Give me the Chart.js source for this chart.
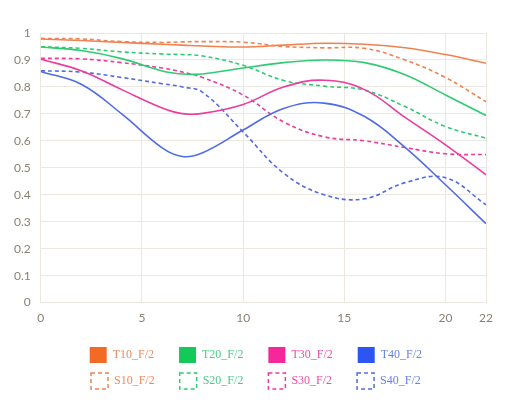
<!DOCTYPE html>
<html>
<head>
<meta charset="utf-8">
<script src="https://cdn.jsdelivr.net/npm/chart.js@4.4.0/dist/chart.umd.min.js"></script>
<style>
  html, body { margin: 0; padding: 0; background: #fff; }
  #wrap { width: 521px; height: 416px; }
</style>
</head>
<body>
<div id="wrap"><canvas id="mtf"></canvas></div>
<script>
// image height (mm) where each value was read
var xs = [0, 2, 4, 6, 7, 8, 10, 12, 14, 16, 18, 20, 22];
var xTicks = [0, 5, 10, 15, 20, 22];

// sagittal / tangential MTF at F/2
var t10 = [0.978, 0.972, 0.965, 0.958, 0.955, 0.952, 0.948, 0.955, 0.962, 0.958, 0.945, 0.920, 0.888];
var s10 = [0.980, 0.978, 0.968, 0.965, 0.967, 0.968, 0.966, 0.950, 0.945, 0.943, 0.900, 0.835, 0.745];
var t20 = [0.948, 0.935, 0.905, 0.859, 0.848, 0.848, 0.870, 0.890, 0.900, 0.890, 0.845, 0.770, 0.694];
var s20 = [0.949, 0.943, 0.930, 0.922, 0.920, 0.915, 0.880, 0.824, 0.803, 0.788, 0.727, 0.653, 0.610];
var t30 = [0.903, 0.860, 0.790, 0.722, 0.701, 0.702, 0.735, 0.800, 0.825, 0.790, 0.687, 0.585, 0.474];
var s30 = [0.906, 0.904, 0.890, 0.870, 0.855, 0.835, 0.770, 0.670, 0.615, 0.600, 0.575, 0.552, 0.549];
var t40 = [0.857, 0.810, 0.700, 0.574, 0.542, 0.556, 0.640, 0.720, 0.740, 0.690, 0.576, 0.437, 0.293];
var s40 = [0.860, 0.855, 0.835, 0.812, 0.800, 0.780, 0.633, 0.480, 0.400, 0.385, 0.445, 0.463, 0.363];

var names = ["T10_F/2", "T20_F/2", "T30_F/2", "T40_F/2", "S10_F/2", "S20_F/2", "S30_F/2", "S40_F/2"];
var series = [t10, t20, t30, t40, s10, s20, s30, s40];

var boxColors = ["#f26a24", "#15c85a", "#f7269a", "#2d55f5"];
var lineColors = ["#f08250", "#2fcb72", "#ea3d9d", "#4f6ce4"];
var textColors = ["#ef8a5c", "#4ccb85", "#ef4ea6", "#6782e6"];

function pts(arr) {
  return xs.map(function(x, i) { return {x: x, y: arr[i]}; });
}

var datasets = series.map(function(arr, i) {
  var c = i % 4;
  var dashed = i >= 4;
  return {
    label: names[i],
    data: pts(arr),
    borderColor: lineColors[c],
    backgroundColor: dashed ? "rgba(0,0,0,0)" : boxColors[c],
    borderWidth: 1.6,
    borderDash: dashed ? [4, 3] : [],
    pointRadius: 0,
    tension: 0.4,
    fill: false
  };
});

var tickFont = {family: "Lato", size: 12};
var tickColor = "#8b8173";
var gridColor = "#ece8e1";

var ctx = document.getElementById("mtf").getContext("2d");
window.mtfChart = new Chart(ctx, {
  type: 'line',
  data: {datasets: datasets},
  options: {
    responsive: true,
    maintainAspectRatio: false,
    animation: false,
    layout: {padding: {top: 33, left: 4, right: 35, bottom: 17}},
    plugins: {
      tooltip: {enabled: false},
      legend: {
        position: 'bottom',
        fullSize: false,
        labels: {
          boxWidth: 17,
          boxHeight: 16,
          padding: 10,
          font: {family: "Liberation Serif", size: 12},
          generateLabels: function(chart) {
            return chart.data.datasets.map(function(ds, i) {
              var c = i % 4;
              var dashed = i >= 4;
              return {
                text: ds.label + "     ",
                datasetIndex: i,
                fillStyle: dashed ? "rgba(0,0,0,0)" : boxColors[c],
                strokeStyle: dashed ? lineColors[c] : boxColors[c],
                lineDash: dashed ? [4, 3] : [],
                lineWidth: dashed ? 1.5 : 0,
                fontColor: textColors[c],
                hidden: false
              };
            });
          }
        }
      }
    },
    scales: {
      x: {
        type: 'linear',
        min: 0,
        max: 22,
        afterBuildTicks: function(scale) {
          scale.ticks = xTicks.map(function(v) { return {value: v}; });
        },
        afterFit: function(scale) { scale.height += 4; },
        grid: {color: gridColor, drawTicks: false},
        border: {color: gridColor},
        ticks: {padding: 8, color: tickColor, font: tickFont, maxRotation: 0}
      },
      y: {
        min: 0,
        max: 1,
        grid: {color: gridColor, drawTicks: false},
        border: {color: gridColor},
        ticks: {
          stepSize: 0.1,
          padding: 10,
          color: tickColor,
          font: tickFont,
          callback: function(v) { return String(+v.toFixed(1)); }
        }
      }
    }
  }
});
</script>
</body>
</html>
